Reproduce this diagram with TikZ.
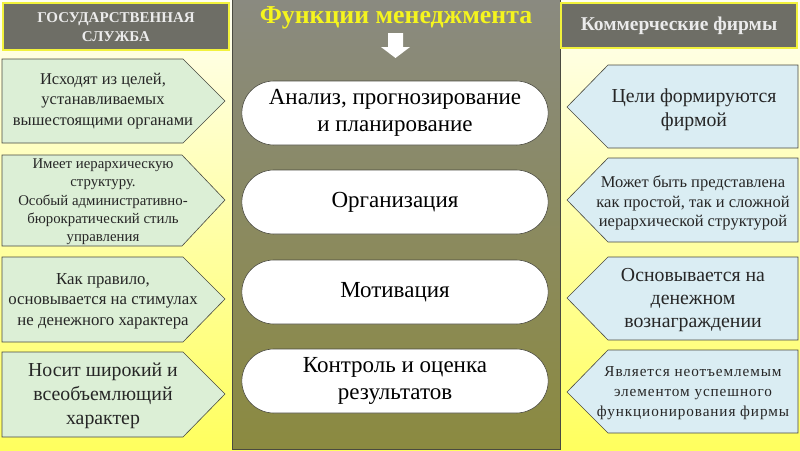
\documentclass[tikz,border=0pt]{standalone}
\usepackage{fontspec}
\setmainfont{Liberation Serif}
\usetikzlibrary{shapes.misc}
\definecolor{bgtop}{HTML}{FFFFF2}
\definecolor{bgbot}{HTML}{FFFF5E}
\definecolor{pantop}{HTML}{8A8A80}
\definecolor{panbot}{HTML}{8B8A40}
\definecolor{hdrfill}{HTML}{6E6E66}
\definecolor{hdrline}{HTML}{F2F23C}
\definecolor{lgreen}{HTML}{DCEFD6}
\definecolor{lblue}{HTML}{DAEDF3}
\definecolor{edge}{HTML}{4A4A40}
\definecolor{ttl}{HTML}{F5F51E}
\definecolor{txt}{HTML}{262626}
\tikzset{
  hdrbox/.style={draw=hdrline,line width=2pt,fill=hdrfill},
  hdrtext/.style={text=white!92!black,font=\bfseries,align=center},
  govbox/.style={draw=edge,line width=0.6pt,fill=lgreen},
  firmbox/.style={draw=edge,line width=0.6pt,fill=lblue},
  boxtext/.style={text=txt,align=center,inner sep=0pt},
  fnbox/.style={rounded rectangle,draw=edge,line width=0.6pt,fill=white,minimum width=313pt,minimum height=64pt,text=black,align=center,font=\fontsize{23}{27.5}\selectfont},
}
\begin{document}
\begin{tikzpicture}[x=1pt,y=-1pt]
\useasboundingbox (0,0) rectangle (800,450);
% background
\shade[top color=bgtop,bottom color=bgbot] (0,0) rectangle (800,450);
% central panel
\shade[top color=pantop,bottom color=panbot] (232,0) rectangle (560,449);
\draw[edge,line width=0.8pt] (232,-2) -- (232,449) -- (560,449) -- (560,-2);
% headers
\draw[hdrbox] (3,3) rectangle (229,50);
\node[hdrtext,font=\bfseries\fontsize{15}{19}\selectfont] (gov) at (116,27) {ГОСУДАРСТВЕННАЯ\\СЛУЖБА};
\draw[hdrbox] (561,3) rectangle (797,48);
\node[hdrtext,font=\bfseries\fontsize{19.5}{22}\selectfont] (firm) at (679,26) {Коммерческие фирмы};
\node[text=ttl,font=\bfseries\fontsize{25.8}{30}\selectfont] (title) at (396,18) {Функции менеджмента};
% down arrow
\fill[white] (388,33) -- (403,33) -- (403,47) -- (410,47) -- (395.5,58) -- (381,47) -- (388,47) -- cycle;
% functions
\node[fnbox] (f1) at (395,113) {Анализ, прогнозирование\\и планирование};
\node[fnbox] (f2) at (395,202) {Организация};
\node[fnbox] (f3) at (395,292) {Мотивация};
\node[fnbox] (f4) at (395,381) {Контроль и оценка\\результатов};
% left boxes
\draw[govbox] (2,59) -- (183,59) -- (225,101) -- (183,143) -- (2,143) -- cycle;
\node[boxtext,font=\fontsize{16.5}{20.5}\selectfont] (l1) at (103,101) {Исходят из целей,\\устанавливаемых\\вышестоящими органами};
\draw[govbox] (2,155) -- (182,155) -- (225,200) -- (182,246) -- (2,246) -- cycle;
\node[boxtext,font=\fontsize{14.8}{18.3}\selectfont] (l2) at (103,202) {Имеет иерархическую\\структуру.\\Особый административно-\\бюрократический стиль\\управления};
\draw[govbox] (2,257) -- (183,257) -- (225,299) -- (183,342) -- (2,342) -- cycle;
\node[boxtext,font=\fontsize{16.8}{20.5}\selectfont] (l3) at (103,301) {Как правило,\\основывается на стимулах\\не денежного характера};
\draw[govbox] (2,352) -- (183,352) -- (225,394) -- (183,437) -- (2,437) -- cycle;
\node[boxtext,font=\fontsize{19.8}{24}\selectfont] (l4) at (103,396) {Носит широкий и\\всеобъемлющий\\характер};
% right boxes
\draw[firmbox] (798,65) -- (608,65) -- (567,107) -- (608,148) -- (798,148) -- cycle;
\node[boxtext,font=\fontsize{19.8}{24}\selectfont] (r1) at (694,110) {Цели формируются\\фирмой};
\draw[firmbox] (798,158) -- (608,158) -- (567,200) -- (608,242) -- (798,242) -- cycle;
\node[boxtext,font=\fontsize{16.5}{19.5}\selectfont] (r2) at (693,203) {Может быть представлена\\как простой, так и сложной\\иерархической структурой};
\draw[firmbox] (798,257) -- (608,257) -- (567,298) -- (608,340) -- (798,340) -- cycle;
\node[boxtext,font=\fontsize{19.8}{23}\selectfont] (r3) at (693,300) {Основывается на\\денежном\\вознаграждении};
\draw[firmbox] (798,350) -- (608,350) -- (567,392) -- (608,433) -- (798,433) -- cycle;
\node[boxtext,font=\addfontfeatures{LetterSpace=6}\fontsize{15.2}{20}\selectfont] (r4) at (693,393) {Является неотъемлемым\\элементом успешного\\функционирования фирмы};
\end{tikzpicture}
\end{document}
